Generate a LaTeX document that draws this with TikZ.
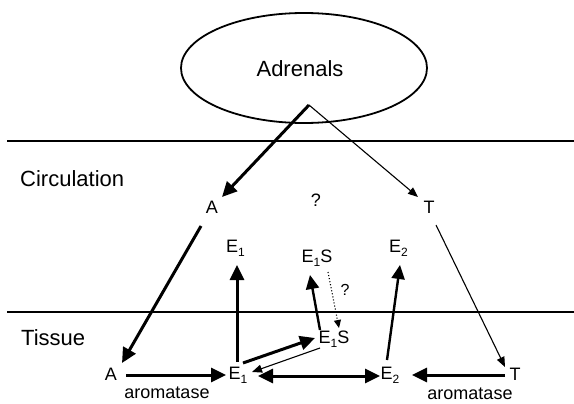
\documentclass[tikz,border=0pt]{standalone}
\usepackage{fontspec}
\setmainfont{Liberation Sans}
\usetikzlibrary{arrows.meta,shapes.geometric}
\newcommand{\mysub}[1]{\raisebox{-0.45ex}{\fontsize{12}{12}\selectfont #1}}
\tikzset{
  lbl/.style={inner sep=0pt, anchor=base, font=\fontsize{18}{18}\selectfont},
  big/.style={inner sep=0pt, anchor=base, font=\fontsize{22}{22}\selectfont},
  enz/.style={inner sep=0pt, anchor=base, font=\fontsize{18}{18}\selectfont},
  thick arrow/.style={line width=3pt, -{Triangle[length=15pt,width=14pt]}},
  mid arrow/.style={line width=2.4pt, -{Triangle[length=14pt,width=13pt]}},
  thin arrow/.style={line width=1.1pt, -{Triangle[length=10pt,width=8pt]}},
  dot arrow/.style={line width=1.1pt, dotted, -{Triangle[length=8pt,width=7pt]}},
  sep line/.style={line width=1.8pt}
}
\begin{document}
\begin{tikzpicture}[x=1pt,y=-1pt]
\useasboundingbox (0,0) rectangle (574,404);
% Adrenals
\node[draw, ellipse, line width=1.8pt, minimum width=246pt, minimum height=110pt, inner sep=0pt] (adr) at (304,68) {};
\node[big] (adrtxt) at (300,77) {Adrenals};
\coordinate (apex) at (309,105);
% separator lines
\coordinate (l1a) at (7,141); \coordinate (l1b) at (574,141);
\coordinate (l2a) at (7,312); \coordinate (l2b) at (574,312);
\draw[sep line] (l1a) -- (l1b);
\draw[sep line] (l2a) -- (l2b);
% region labels
\node[big, anchor=base west] (circ) at (20,186) {Circulation};
\node[big, anchor=base west] (tis) at (21,345) {Tissue};
% circulation nodes
\node[lbl] (Ac) at (212,213) {A};
\node[lbl] (Tc) at (429,213) {T};
\node[lbl] (q1) at (316,207) {?};
\node[lbl] (E1c) at (235.5,252) {E\mysub{1}};
\node[lbl] (E1Sc) at (317,262) {E\mysub{1}S};
\node[lbl] (E2c) at (398.5,252) {E\mysub{2}};
% tissue nodes
\node[lbl] (At) at (111,380) {A};
\node[lbl] (E1t) at (238,379) {E\mysub{1}};
\node[lbl] (E1St) at (334,343) {E\mysub{1}S};
\node[lbl] (E2t) at (390,379) {E\mysub{2}};
\node[lbl] (Tt) at (515,380) {T};
\node[lbl, font=\fontsize{16}{16}\selectfont] (q2) at (345,295) {?};
\node[enz] (arom1) at (167,398) {aromatase};
\node[enz] (arom2) at (470,399) {aromatase};
% arrows
\draw[thick arrow] (apex) -- ([shift={(10,-16)}]Ac.base);
\draw[thin arrow] (apex) -- ([shift={(-11,-16)}]Tc.base);
\draw[thick arrow] ([shift={(-11,13)}]Ac.base) -- ([shift={(11,-17)}]At.base);
\draw[thin arrow] ([shift={(7,12)}]Tc.base) -- ([shift={(-10,-13)}]Tt.base);
\draw[thick arrow] ([shift={(15,-5)}]At.base) -- ([shift={(-12,-4)}]E1t.base);
\draw[thick arrow] ([shift={(-10,-5)}]Tt.base) -- ([shift={(22,-4)}]E2t.base);
\draw[thick arrow, {Triangle[length=15pt,width=14pt]}-{Triangle[length=15pt,width=14pt]}] ([shift={(20,-3)}]E1t.base) -- ([shift={(-10,-3)}]E2t.base);
\draw[thick arrow] ([shift={(-1,-17)}]E1t.base) -- ([shift={(1.5,13)}]E1c.base);
\draw[mid arrow] ([shift={(-3,-19)}]E2t.base) -- ([shift={(1.5,13)}]E2c.base);
\draw[mid arrow] ([shift={(-14,-13)}]E1St.base) -- ([shift={(-7,13)}]E1Sc.base);
\draw[dot arrow] ([shift={(11,10)}]E1Sc.base) -- ([shift={(5,-15)}]E1St.base);
\draw[thick arrow] ([shift={(5,-16)}]E1t.base) -- ([shift={(-19,-5)}]E1St.base);
\draw[thin arrow] ([shift={(-14,5)}]E1St.base) -- ([shift={(14,-7)}]E1t.base);
\end{tikzpicture}
\end{document}
